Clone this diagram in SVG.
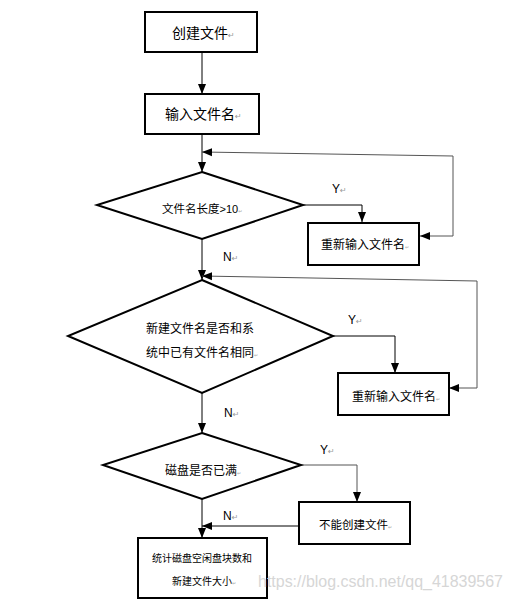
<svg xmlns="http://www.w3.org/2000/svg" width="511" height="599" viewBox="0 0 511 599">
<style>
.box{fill:#fff;stroke:#000;stroke-width:2}
.dia{fill:#fff;stroke:#000;stroke-width:2}
.c{fill:none;stroke:#000;stroke-width:1}
.g{fill:none;stroke:#555;stroke-width:1}
.t{font-family:"Noto Sans CJK SC","Noto Sans",sans-serif;fill:#000}
.l{font-family:"Liberation Sans",Arial,sans-serif;font-size:12px;fill:#000}
.pm{font-family:"DejaVu Sans",sans-serif;font-size:8px;fill:#999}
.pd{font-family:"DejaVu Sans",sans-serif;font-size:5px;fill:#aaa}
.wm{font-family:"Liberation Sans",Arial,sans-serif;font-size:16px;fill:#d6d6d6}
</style>
<defs>
<marker id="ah" markerUnits="userSpaceOnUse" markerWidth="10" markerHeight="10" viewBox="0 0 10 10" refX="10" refY="5" orient="auto">
<path d="M0,1 L10,5 L0,9 z" fill="#000"/>
</marker>
</defs>
<rect width="511" height="599" fill="#fff"/>
<g id="connectors">
<path class="c" d="M202,53 V94" marker-end="url(#ah)"/>
<path class="c" d="M202,134 V172" marker-end="url(#ah)"/>
<path class="g" d="M453,236 V156 L202,152" marker-end="url(#ah)"/>
<path class="g" d="M453,236 H420" marker-end="url(#ah)"/>
<path class="c" d="M303,205 H362 V222" marker-end="url(#ah)"/>
<path class="c" d="M202,239 V280" marker-end="url(#ah)"/>
<path class="g" d="M477,388 V281 L202,276" marker-end="url(#ah)"/>
<path class="g" d="M477,388 H449" marker-end="url(#ah)"/>
<path class="c" d="M333,336 H395 V373" marker-end="url(#ah)"/>
<path class="c" d="M202,393 V433" marker-end="url(#ah)"/>
<path class="g" d="M301,465 H357 V502" marker-end="url(#ah)"/>
<path class="c" d="M202,499 V538" marker-end="url(#ah)"/>
<path class="c" d="M298,526 H202" marker-end="url(#ah)"/>
</g>
<g id="labels">
<text class="l" x="332" y="193">Y<tspan class="pm">↵</tspan></text>
<text class="l" x="223" y="261">N<tspan class="pm">↵</tspan></text>
<text class="l" x="348" y="324">Y<tspan class="pm">↵</tspan></text>
<text class="l" x="224" y="417">N<tspan class="pm">↵</tspan></text>
<text class="l" x="320" y="454">Y<tspan class="pm">↵</tspan></text>
<text class="l" x="223" y="520">N<tspan class="pm">↵</tspan></text>
</g>
<g id="n1">
<rect class="box" x="145" y="12" width="112" height="40"/>
<text class="t" x="172" y="38" font-size="14">创建文件<tspan class="pm">↵</tspan></text>
</g>
<g id="n2">
<rect class="box" x="145" y="94" width="114" height="40"/>
<text class="t" x="165" y="119" font-size="14">输入文件名<tspan class="pm">↵</tspan></text>
</g>
<g id="d1">
<polygon class="dia" points="202,172 303,205 202,239 97,205"/>
<text class="t" x="162" y="213" font-size="11.5">文件名长度<tspan font-family="Liberation Sans,Arial,sans-serif" font-size="11">&gt;10</tspan><tspan class="pd">↵</tspan></text>
</g>
<g id="r1">
<rect class="box" x="308" y="223" width="111" height="42"/>
<text class="t" x="321" y="249" font-size="12">重新输入文件名<tspan class="pd">↵</tspan></text>
</g>
<g id="d2">
<polygon class="dia" points="202,280 333,336 202,393 68,336"/>
<text class="t" x="146" y="333" font-size="12">新建文件名是否和系</text>
<text class="t" x="146" y="357" font-size="12">统中已有文件名相同<tspan class="pd">↵</tspan></text>
</g>
<g id="r2">
<rect class="box" x="338" y="373" width="111" height="42"/>
<text class="t" x="352" y="401" font-size="12">重新输入文件名<tspan class="pd">↵</tspan></text>
</g>
<g id="d3">
<polygon class="dia" points="202,433 301,465 202,499 103,465"/>
<text class="t" x="165" y="475" font-size="12">磁盘是否已满<tspan class="pd">↵</tspan></text>
</g>
<g id="r3">
<rect class="box" x="299" y="502" width="111" height="42"/>
<text class="t" x="319" y="529" font-size="11.5">不能创建文件<tspan class="pd">↵</tspan></text>
</g>
<g id="n4">
<rect class="box" x="138" y="538" width="129" height="60"/>
<text class="t" x="152" y="562" font-size="10" fill="#222">统计磁盘空闲盘块数和</text>
<text class="t" x="172" y="585" font-size="10" fill="#222">新建文件大小<tspan class="pd">↵</tspan></text>
</g>
<text class="wm" x="258" y="587" textLength="245" lengthAdjust="spacingAndGlyphs">https://blog.csdn.net/qq_41839567</text>
</svg>
